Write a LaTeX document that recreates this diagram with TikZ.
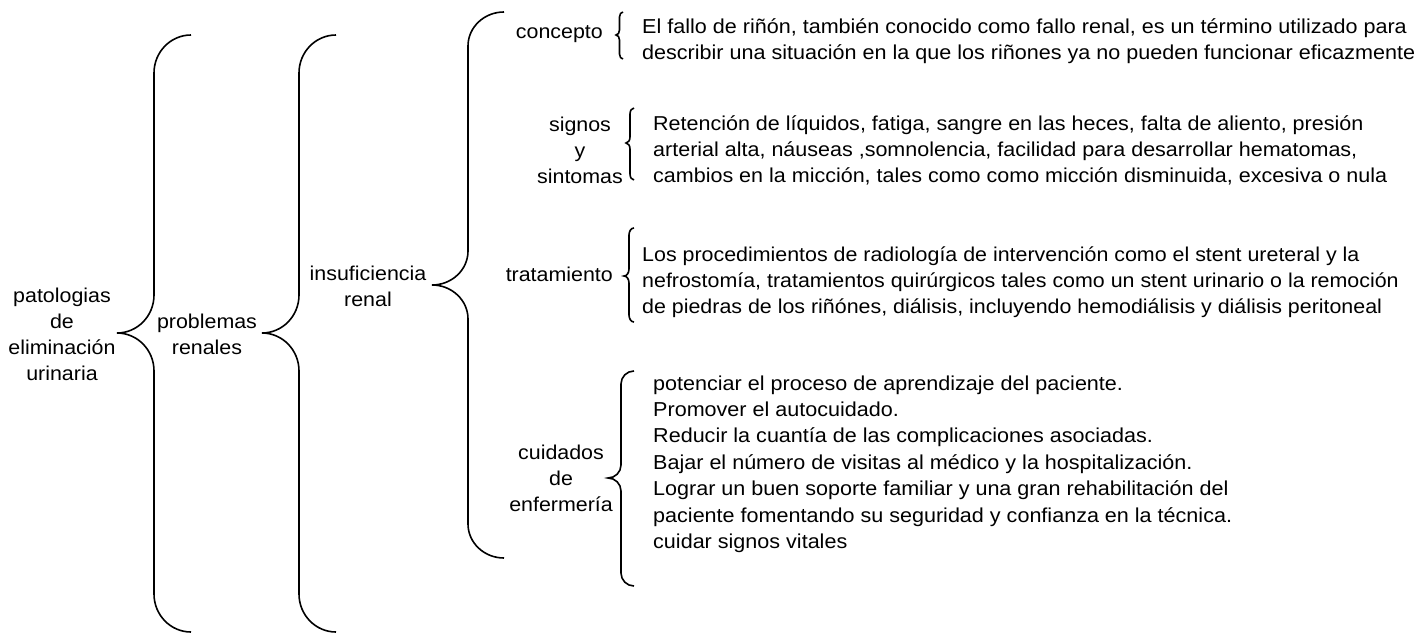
\documentclass[tikz,border=0pt]{standalone}
\usepackage{fontspec}
\setmainfont{Liberation Sans}[FakeStretch=1.07]
\newcommand\curlybrace[6]{% tip x, top y, bottom y, mid y, width, radius
  \pgfmathsetmacro\bxE{#1+#5}%
  \pgfmathsetmacro\bxV{#1+#5/2}%
  \pgfmathsetmacro\bxH{0.5523*#5/2}%
  \pgfmathsetmacro\bxR{0.5523*#6}%
  \draw[bracestyle] (\bxE,#2) .. controls (\bxE-\bxH,#2) and (\bxV,#2+#6-\bxR) .. (\bxV,#2+#6)
    -- (\bxV,#4-#6) .. controls (\bxV,#4-#6+\bxR) and (#1+\bxH,#4) .. (#1,#4)
    .. controls (#1+\bxH,#4) and (\bxV,#4+#6-\bxR) .. (\bxV,#4+#6)
    -- (\bxV,#3-#6) .. controls (\bxV,#3-#6+\bxR) and (\bxE-\bxH,#3) .. (\bxE,#3);
}
\begin{document}
\begin{tikzpicture}[x=1pt,y=-1pt,
  bracestyle/.style={draw=black,line width=1.6pt},
  lbl/.style={inner sep=0pt,font=\fontsize{20}{26}\selectfont,text=black},
  ctr/.style={lbl,align=center},
  txt/.style={lbl,align=left,anchor=west}]
\fill[white] (0,0) rectangle (1418,634);
\useasboundingbox (0,0) rectangle (1418,634);
% left labels
\node[ctr] (pat) at (62,334) {patologias\\de\\eliminación\\urinaria};
\node[ctr] (prob) at (207,334) {problemas\\renales};
\node[ctr] (ins) at (368,286) {insuficiencia\\renal};
\node[lbl,anchor=east] (con) at (603,34) {concepto};
\node[ctr] (sig) at (580,150) {signos\\y\\sintomas};
\node[lbl,anchor=east] (tra) at (613,274) {tratamiento};
\node[ctr] (cui) at (561,478) {cuidados\\de\\enfermería};
% braces
\curlybrace{117}{35}{632}{333}{74}{38}
\curlybrace{262}{35}{632}{333}{74}{38}
\curlybrace{432}{12}{558}{285}{72}{34}
\curlybrace{616}{12}{59}{35}{7}{5}
\curlybrace{626}{108}{180}{143}{8}{6}
\curlybrace{624}{228}{322}{276}{10}{7}
\curlybrace{608}{371}{586}{478}{26}{13}
% right texts
\node[txt,font=\fontsize{20.15}{26}\selectfont] (conT) at (642,41) {El fallo de riñón, también conocido como fallo renal, es un término utilizado para\\describir una situación en la que los riñones ya no pueden funcionar eficazmente};
\node[txt,font=\fontsize{20.1}{26}\selectfont] (sigT) at (653,150) {Retención de líquidos, fatiga, sangre en las heces, falta de aliento, presión\\arterial alta, náuseas ,somnolencia, facilidad para desarrollar hematomas,\\cambios en la micción, tales como como micción disminuida, excesiva o nula};
\node[txt,font=\fontsize{20}{26}\selectfont] (traT) at (642,282) {Los procedimientos de radiología de intervención como el stent ureteral y la\\nefrostomía, tratamientos quirúrgicos tales como un stent urinario o la remoción\\de piedras de los riñónes, diálisis, incluyendo hemodiálisis y diálisis peritoneal};
\node[txt,font=\fontsize{20.15}{26.4}\selectfont] (cuiT) at (653,464) {potenciar el proceso de aprendizaje del paciente.\\Promover el autocuidado.\\Reducir la cuantía de las complicaciones asociadas.\\Bajar el número de visitas al médico y la hospitalización.\\Lograr un buen soporte familiar y una gran rehabilitación del\\paciente fomentando su seguridad y confianza en la técnica.\\cuidar signos vitales};
\end{tikzpicture}
\end{document}
